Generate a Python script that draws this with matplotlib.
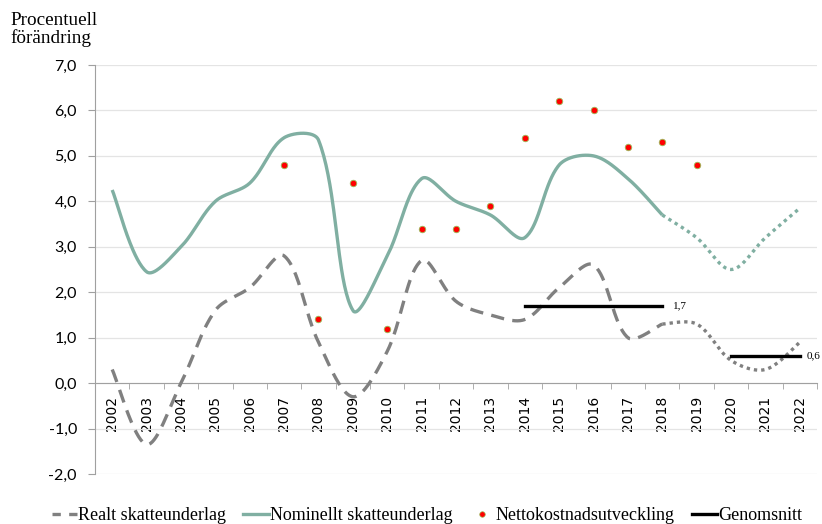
import numpy as np
import matplotlib
matplotlib.use("Agg")
import matplotlib.pyplot as plt
from matplotlib.lines import Line2D

years = list(range(2002, 2023))
year_labels = [str(y) for y in years]

# Realt skatteunderlag (outcome 2002-2018, forecast 2018-2022)
real_hist = [0.3, -1.35, 0.0, 1.6, 2.1, 2.8, 0.9, -0.3, 0.7, 2.7, 1.8, 1.5, 1.4, 2.1, 2.6, 1.0, 1.3]
real_fc = [1.3, 1.3, 0.5, 0.3, 0.9]
# Nominellt skatteunderlag
nom_hist = [4.25, 2.45, 3.0, 4.0, 4.4, 5.4, 5.35, 1.6, 2.8, 4.5, 4.0, 3.7, 3.2, 4.8, 5.0, 4.5, 3.7]
nom_fc = [3.7, 3.2, 2.5, 3.2, 3.85]
# Nettokostnadsutveckling
net_years = list(range(2007, 2020))
net_vals = [4.8, 1.4, 4.4, 1.2, 3.4, 3.4, 3.9, 5.4, 6.2, 6.0, 5.2, 5.3, 4.8]
# Genomsnitt
avg1_years = [2014, 2018]
avg1 = 1.7
avg2_years = [2020, 2022]
avg2 = 0.6

XS, YS = 34.35, 45.4  # pixel scale per year / per unit, used for smoothing geometry


def smooth(xs, ys, n=40):
    xs = np.asarray(xs, float); ys = np.asarray(ys, float)
    P = np.column_stack([xs * XS, ys * YS])
    out = []
    for i in range(len(P) - 1):
        p0 = P[i - 1] if i > 0 else P[i]
        p1 = P[i]; p2 = P[i + 1]
        p3 = P[i + 2] if i + 2 < len(P) else P[i + 1]
        d01 = np.linalg.norm(p1 - p0); d12 = np.linalg.norm(p2 - p1); d23 = np.linalg.norm(p3 - p2)
        f1 = d12 / (d01 + d12) / 3.0 if d01 > 0 else 1 / 6
        f2 = d12 / (d12 + d23) / 3.0 if d23 > 0 else 1 / 6
        c1 = p1 + (p2 - p0) * f1
        c2 = p2 - (p3 - p1) * f2
        t = np.linspace(0, 1, n)[:, None]
        seg = (1 - t) ** 3 * p1 + 3 * (1 - t) ** 2 * t * c1 + 3 * (1 - t) * t ** 2 * c2 + t ** 3 * p2
        out.append(seg if i == 0 else seg[1:])
    arr = np.vstack(out)
    return arr[:, 0] / XS, arr[:, 1] / YS


serif = ["Liberation Serif", "DejaVu Serif"]
sans = ["Lato", "DejaVu Sans"]

fig = plt.figure(figsize=(8.22, 5.24), dpi=100)
ax = fig.add_axes([95 / 822, 1 - 474 / 524, (817 - 95) / 822, (474 - 65) / 524])

green = "#80AFA2"
grey = "#808080"

hx = years[:len(real_hist)]
fx = years[len(real_hist) - 1:]

x, y = smooth(hx, nom_hist)
ax.plot(x, y, color=green, lw=2.4, solid_capstyle="butt", zorder=3)
x, y = smooth(fx, nom_fc)
ax.plot(x, y, color=green, lw=2.4, linestyle=(0, (1, 1.2)), zorder=3)

x, y = smooth(hx, real_hist)
ax.plot(x, y, color=grey, lw=2.4, linestyle=(0, (4, 2.5)), zorder=3)
x, y = smooth(fx, real_fc)
ax.plot(x, y, color=grey, lw=2.4, linestyle=(0, (1, 1.2)), zorder=3)

ax.scatter(net_years, net_vals, s=22, color="#FF0000", edgecolors="#9BBB59", linewidths=0.6, zorder=4)

ax.plot(avg1_years, [avg1, avg1], color="black", lw=2.4, zorder=5)
ax.plot(avg2_years, [avg2, avg2], color="black", lw=2.4, zorder=5)
ax.text(avg1_years[1] + 0.3, avg1, "1,7", fontsize=8, family=serif, va="center", ha="left")
ax.text(avg2_years[1] + 0.2, avg2, "0,6", fontsize=8, family=serif, va="center", ha="left", clip_on=False)

ax.set_xlim(years[0] - 0.5, years[-1] + 0.5)
ax.set_ylim(-2, 7)
yt = np.arange(-2, 8, 1)
ax.set_yticks(yt, labels=[f"{v:.1f}".replace(".", ",") for v in yt])
ax.yaxis.grid(True, color="#E4E4E4", lw=0.9, zorder=0)
ax.set_axisbelow(True)

ax.set_xticks(years, labels=year_labels)
ax.set_xticks(np.arange(years[0] - 0.5, years[-1] + 1.0, 1), minor=True)
ax.tick_params(axis="x", which="major", length=0, pad=9, labelrotation=90)
ax.tick_params(axis="x", which="minor", length=4, color="#A0A0A0", direction="out")
ax.tick_params(axis="y", length=5, color="#A0A0A0", pad=8)
for lbl in ax.get_xticklabels():
    lbl.set_fontfamily(serif)
    lbl.set_fontsize(11.5)
for lbl in ax.get_yticklabels():
    lbl.set_fontfamily(sans)
    lbl.set_fontsize(11.5)

for s in ["top", "right"]:
    ax.spines[s].set_visible(False)
ax.spines["bottom"].set_position(("data", 0))
ax.spines["bottom"].set_color("#A0A0A0")
ax.spines["left"].set_color("#A0A0A0")

fig.text(10 / 822, 1 - 12 / 524, "Procentuell\nförändring", family=serif, fontsize=13.8,
         va="top", ha="left", linespacing=1.0)

handles = [
    Line2D([], [], color=grey, lw=2.4, linestyle=(0, (2.5, 2.5))),
    Line2D([], [], color=green, lw=2.4),
    Line2D([], [], color="#FF0000", marker="o", markersize=4, markeredgecolor="#9BBB59",
           markeredgewidth=0.5, linestyle="none"),
    Line2D([], [], color="black", lw=2.4),
]
labels = ["Realt skatteunderlag", "Nominellt skatteunderlag", "Nettokostnadsutveckling", "Genomsnitt"]
fig.legend(handles, labels, loc="center", bbox_to_anchor=(427 / 822, 1 - 516 / 524), ncol=4,
           frameon=False, prop={"family": serif, "size": 13}, handlelength=1.4,
           handletextpad=0.05, columnspacing=0.95, borderaxespad=0)

fig.savefig("out.png", dpi=100)
